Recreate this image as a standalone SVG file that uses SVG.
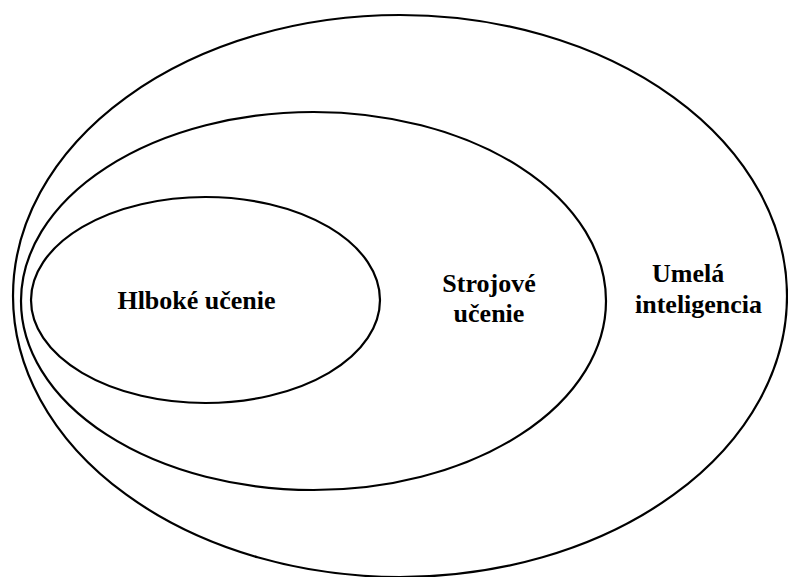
<svg xmlns="http://www.w3.org/2000/svg" width="788" height="577" viewBox="0 0 788 577">
<style>
.e{fill:none;stroke:#000;stroke-width:2.2}
.t{font-family:"Liberation Serif","Times New Roman",serif;font-weight:bold;font-size:26px;fill:#000}
</style>
<rect width="788" height="577" fill="#fff"/>
<g id="umela-inteligencia">
<ellipse class="e" cx="400" cy="296" rx="387" ry="281"/>
<text class="t" x="652" y="282">Umelá</text>
<text class="t" x="635" y="313">inteligencia</text>
</g>
<g id="strojove-ucenie">
<ellipse class="e" cx="313.5" cy="301" rx="292.5" ry="189"/>
<text class="t" x="489" y="292" text-anchor="middle">Strojové</text>
<text class="t" x="489" y="322" text-anchor="middle">učenie</text>
</g>
<g id="hlboke-ucenie">
<ellipse class="e" cx="205.5" cy="300" rx="174.5" ry="103"/>
<text class="t" x="196.5" y="309" text-anchor="middle">Hlboké učenie</text>
</g>
<g id="connectors"/>
</svg>
